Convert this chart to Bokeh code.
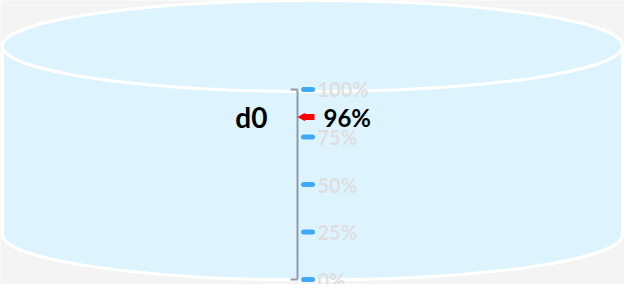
import math
from bokeh.plotting import figure
from bokeh.models import ColumnDataSource, Range1d
from bokeh.transform import dodge
from bokeh.core.properties import value
from bokeh.embed import file_html
from bokeh.resources import INLINE

# ---- data ----
series_names = ["d0"]
series_values = [96]
tick_values = [0, 25, 50, 75, 100]
tick_labels = ["0%", "25%", "50%", "75%", "100%"]

# ---- layout helpers ----
W, H = 624, 284
Y0, Y1 = -2.63, 146.84


def py(px):
    return Y1 - px * (Y1 - Y0) / H


def ph(px):
    return px * (Y1 - Y0) / H


FONT = value("Lato")
BLUE_FILL = "#ddf4fe"

p = figure(width=W, height=H, x_range=Range1d(0, W), y_range=Range1d(Y0, Y1),
           output_backend="svg", toolbar_location=None, min_border=0)
p.axis.visible = False
p.grid.visible = False
p.outline_line_color = None
p.background_fill_color = "#f4f4f4"
p.border_fill_color = "#f4f4f4"

# ---- cylinder ----
cx, cw = 312, 620
top_y, bot_y, eh = py(45.5), py(234), ph(91)
p.ellipse(x=[cx], y=[bot_y], width=cw, height=eh, fill_color=BLUE_FILL,
          line_color="white", line_width=3)
p.quad(left=[cx - cw / 2], right=[cx + cw / 2], top=[top_y], bottom=[bot_y],
       fill_color=BLUE_FILL, line_color=None)
p.segment(x0=[cx - cw / 2, cx + cw / 2], y0=[top_y, top_y],
          x1=[cx - cw / 2, cx + cw / 2], y1=[bot_y, bot_y],
          line_color="white", line_width=3)
p.ellipse(x=[cx], y=[top_y], width=cw, height=eh, fill_color=BLUE_FILL,
          line_color="white", line_width=3)

# ---- scale ----
ax_x = 297
p.segment(x0=[ax_x], y0=[min(tick_values)], x1=[ax_x], y1=[max(tick_values)],
          line_color="#8e9bab", line_width=2)
p.segment(x0=[ax_x - 7] * 2, y0=[min(tick_values), max(tick_values)],
          x1=[ax_x] * 2, y1=[min(tick_values), max(tick_values)],
          line_color="#8e9bab", line_width=2)

tsrc = ColumnDataSource(dict(v=tick_values, lab=tick_labels))
p.segment(x0=303, y0="v", x1=312, y1="v", source=tsrc,
          line_color="#3fa9f5", line_width=5, line_cap="round")
p.text(x=317, y="v", text="lab", source=tsrc, text_baseline="middle",
       text_font=FONT, text_font_style="bold", text_font_size="20px",
       text_color="#dfdfdf")

# ---- marker ----
msrc = ColumnDataSource(dict(v=series_values, name=series_names,
                             lab=[f"{v}%" for v in series_values]))
my = dodge("v", -10.5, range=p.y_range)
p.segment(x0=303, y0=my, x1=314, y1=my, source=msrc,
          line_color="#ff0000", line_width=6)
p.scatter(x=302, y=my, source=msrc, marker="triangle", angle=math.pi / 2,
          size=7, fill_color="#ff0000", line_color="#ff0000")
p.text(x=323, y=my, text="lab", source=msrc, text_baseline="middle",
       text_font=FONT, text_font_style="bold", text_font_size="24px",
       text_color="#000000")
p.text(x=267, y=my, text="name", source=msrc, text_baseline="middle",
       text_align="right", text_font=FONT, text_font_style="bold",
       text_font_size="28px", text_color="#000000")

open("out.html", "w").write(file_html(p, INLINE))
